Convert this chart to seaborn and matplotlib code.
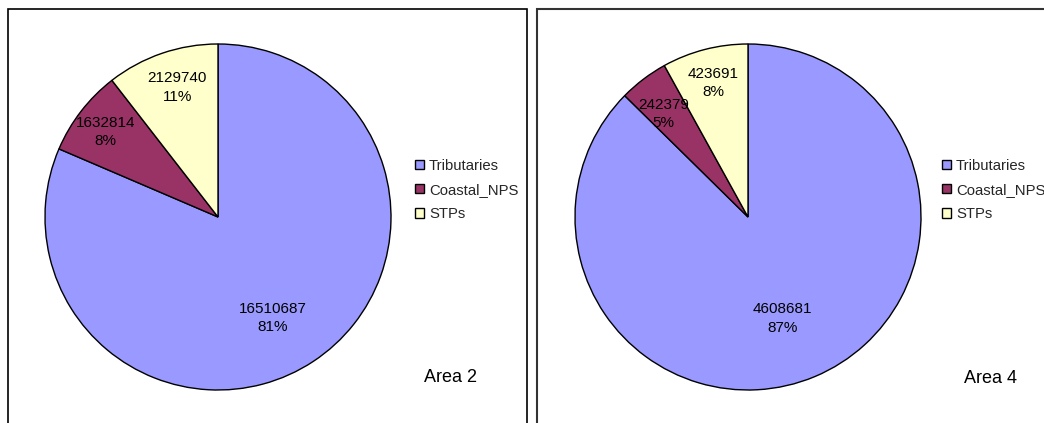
import matplotlib
matplotlib.use("Agg")
import matplotlib.pyplot as plt
from matplotlib.patches import Rectangle
import numpy as np
import seaborn as sns

# Load sources per area
categories = ["Tributaries", "Coastal_NPS", "STPs"]
area2_values = [16510687, 1632814, 2129740]
area4_values = [4608681, 242379, 423691]
panel_titles = ["Area 2", "Area 4"]

sns.set_theme(style="white")
plt.rcParams["font.family"] = ["Liberation Sans", "DejaVu Sans"]

colors = sns.color_palette(["#9999FF", "#993366", "#FFFFCC"])

W, H = 1044, 423
fig = plt.figure(figsize=(W / 100, H / 100), dpi=100)
fig.patch.set_facecolor("white")


def fx(x):
    return x / W


def fy(y):
    return 1 - y / H


def draw_panel(values, title, cx, cy, R, label_pos, legend_x, title_xy):
    pad = 1.1
    ax = fig.add_axes([fx(cx - R * pad), fy(cy + R * pad),
                       2 * R * pad / W, 2 * R * pad / H])
    wedges, _ = ax.pie(values, colors=colors, startangle=90, counterclock=False,
                       wedgeprops=dict(edgecolor="black", linewidth=1.0))
    ax.set_xlim(-pad, pad)
    ax.set_ylim(-pad, pad)
    ax.set_aspect("equal")
    ax.axis("off")

    # data labels: radial fraction and angular nudge (degrees) per wedge
    total = float(sum(values))
    for w, v, (r, dth) in zip(wedges, values, label_pos):
        mid = np.deg2rad((w.theta1 + w.theta2) / 2 + dth)
        ax.text(r * np.cos(mid), r * np.sin(mid),
                f"{v}\n{round(100 * v / total):.0f}%",
                ha="center", va="center", fontsize=11, color="black",
                linespacing=1.4)

    fig.legend(wedges, categories, loc="center left",
               bbox_to_anchor=(fx(legend_x), fy(190)),
               bbox_transform=fig.transFigure, frameon=False,
               fontsize=10.7, handlelength=0.6, handleheight=0.6,
               handletextpad=0.35, labelspacing=0.7, borderpad=0,
               borderaxespad=0)

    fig.text(fx(title_xy[0]), fy(title_xy[1]), title, ha="center",
             va="center", fontsize=13, color="black")


draw_panel(area2_values, panel_titles[0], 218, 217, 173,
           [(0.665, -5), (0.815, 0.7), (0.785, -1.5)], 415, (451, 377))
draw_panel(area4_values, panel_titles[1], 748, 217, 173,
           [(0.62, -4), (0.77, 2), (0.80, 0)], 942, (991, 378))

# panel frames
fig.add_artist(Rectangle((fx(8), -0.1), fx(527 - 8), fy(9) + 0.1,
                         transform=fig.transFigure, fill=False,
                         edgecolor="black", linewidth=1.2))
fig.add_artist(Rectangle((fx(537), -0.1), 1.0, fy(9) + 0.1,
                         transform=fig.transFigure, fill=False,
                         edgecolor="#333333", linewidth=1.5))

fig.savefig("out.png", dpi=100)
